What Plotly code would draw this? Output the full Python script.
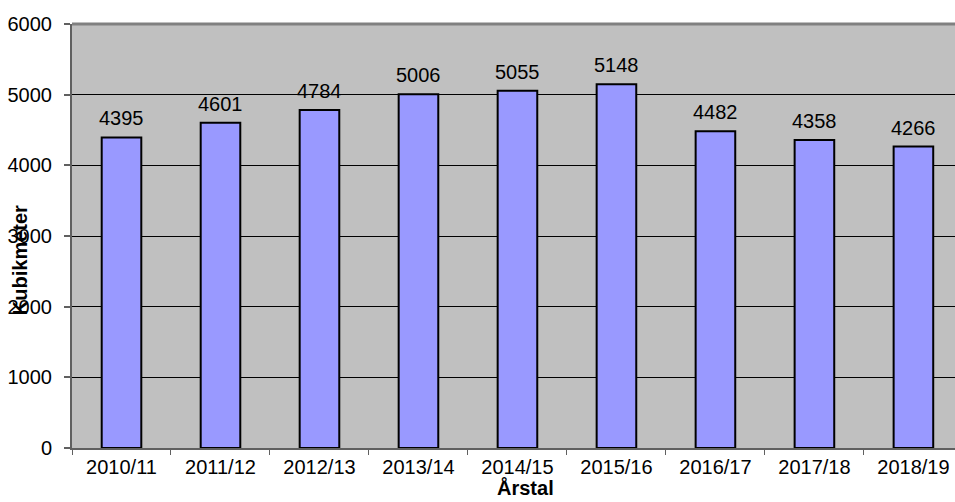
import plotly.graph_objects as go

categories = ["2010/11", "2011/12", "2012/13", "2013/14", "2014/15",
              "2015/16", "2016/17", "2017/18", "2018/19"]
values = [4395, 4601, 4784, 5006, 5055, 5148, 4482, 4358, 4266]
y_ticks = [0, 1000, 2000, 3000, 4000, 5000, 6000]

FONT = "Liberation Sans, Arial, sans-serif"
FS = 20

fig = go.Figure(go.Bar(
    x=categories, y=values,
    width=0.4,
    marker=dict(color="#9999FF", line=dict(color="#000000", width=2)),
    hoverinfo="x+y",
))

fig.update_layout(
    width=955, height=502,
    margin=dict(l=72, r=0, t=24, b=54),
    paper_bgcolor="#FFFFFF",
    plot_bgcolor="#C0C0C0",
    showlegend=False,
    font=dict(family=FONT, size=FS, color="#000000"),
    xaxis=dict(
        type="category",
        range=[-0.5, 8.42],
        tickson="boundaries",
        ticks="outside", ticklen=5, tickcolor="#606060", tickwidth=1,
        showline=True, linecolor="#606060", linewidth=2, mirror=False,
        showgrid=False,
        ticklabelstandoff=0,
        tickfont=dict(family=FONT, size=FS),
    ),
    yaxis=dict(
        range=[0, 6000],
        tickvals=y_ticks,
        ticks="outside", ticklen=6, tickcolor="#606060", tickwidth=2,
        showline=True, linecolor="#606060", linewidth=2,
        showgrid=True, gridcolor="#000000", gridwidth=1,
        zeroline=False,
        ticklabelstandoff=8,
        tickfont=dict(family=FONT, size=FS),
    ),
    shapes=[dict(type="line", xref="paper", yref="paper", x0=0, x1=1, y0=1, y1=1,
                 line=dict(color="#808080", width=3))],
)

for c, v in zip(categories, values):
    fig.add_annotation(x=c, y=v, text=str(v), showarrow=False,
                       xanchor="center", yanchor="bottom", yshift=6,
                       font=dict(family=FONT, size=FS, color="#000000"))

fig.add_annotation(text="<b>Årstal</b>", xref="paper", yref="paper", x=0.514, y=-0.092,
                   showarrow=False, xanchor="center", yanchor="middle",
                   font=dict(family=FONT, size=FS, color="#000000"))
fig.add_annotation(text="<b>Kubikmeter</b>", xref="paper", yref="paper", x=-0.0589, y=0.443,
                   showarrow=False, xanchor="center", yanchor="middle", textangle=-90,
                   font=dict(family=FONT, size=FS, color="#000000"))

fig.write_html("out.html",
               config={"displayModeBar": False},
               post_script="document.body.style.margin='0';document.body.style.overflow='hidden';")
